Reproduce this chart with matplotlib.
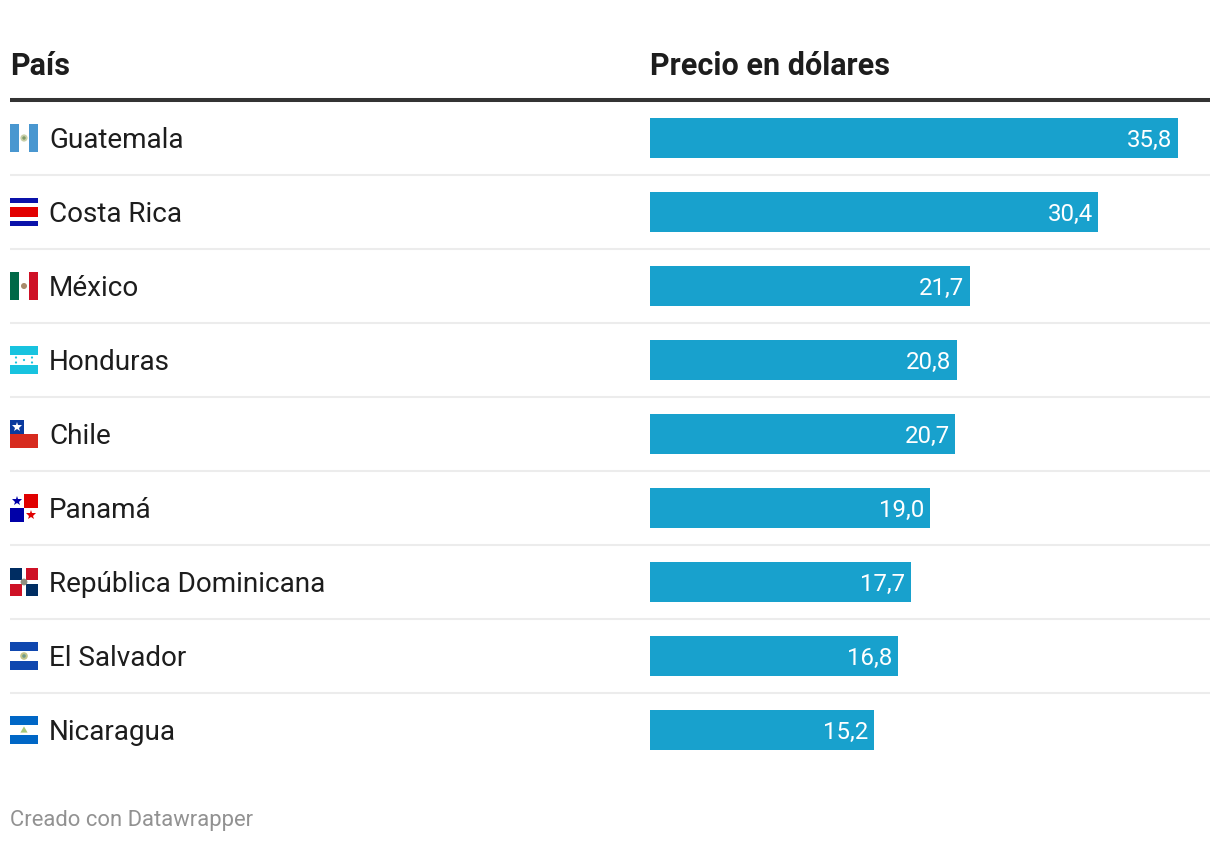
import matplotlib
matplotlib.use('Agg')
import matplotlib.pyplot as plt
from matplotlib.patches import Rectangle, Circle, Polygon

plt.rcParams['font.family'] = ['Roboto', 'DejaVu Sans']

paises = ['Guatemala', 'Costa Rica', 'México', 'Honduras', 'Chile', 'Panamá',
          'República Dominicana', 'El Salvador', 'Nicaragua']
precios = [35.8, 30.4, 21.7, 20.8, 20.7, 19.0, 17.7, 16.8, 15.2]
etiquetas = ['35,8', '30,4', '21,7', '20,8', '20,7', '19,0', '17,7', '16,8', '15,2']

W, H = 1220, 842
TOP = 138
PITCH = 74
BAR = '#18a1cd'
TXT = '#1d1d1d'


def rect(ax, x, y, w, h, c):
    ax.add_patch(Rectangle((x, y), w, h, fc=c, ec='none', zorder=3))


def stripes(ax, y, colors, sizes):
    # horizontal bands, from top to bottom of the 28px flag
    t = y - 14
    for c, s in zip(colors, sizes):
        rect(ax, 10, t, 28, s, c)
        t += s


def vstripes(ax, y, colors):
    for i, c in enumerate(colors):
        rect(ax, 10 + i * 28 / 3, y - 14, 28 / 3, 28, c)


def star(ax, x, y, c, s=6):
    ax.plot([x], [y], marker='*', ms=s, color=c, mew=0, zorder=4)


def dot(ax, x, y, c, r=2.2):
    ax.add_patch(Circle((x, y), r, fc=c, ec='none', zorder=4))


def flag(ax, name, y):
    if name == 'Guatemala':
        vstripes(ax, y, ['#4997d0', '#ffffff', '#4997d0'])
        dot(ax, 24, y, '#c9cfa8', 3.6)
        dot(ax, 24, y, '#7f9a6a', 1.7)
    elif name == 'Costa Rica':
        stripes(ax, y, ['#0a12aa', '#ffffff', '#e20000', '#ffffff', '#0a12aa'],
                [4.67, 4.67, 9.33, 4.67, 4.67])
    elif name == 'México':
        vstripes(ax, y, ['#006847', '#ffffff', '#ce1126'])
        dot(ax, 24, y, '#a98a6a', 3)
    elif name == 'Honduras':
        stripes(ax, y, ['#18c3df', '#ffffff', '#18c3df'], [9.33, 9.33, 9.33])
        for dx, dy in [(0, 0), (-8, -2.5), (8, -2.5), (-8, 2.5), (8, 2.5)]:
            dot(ax, 24 + dx, y + dy, '#18c3df', 1.1)
    elif name == 'Chile':
        stripes(ax, y, ['#ffffff', '#d72b1f'], [14, 14])
        rect(ax, 10, y - 14, 14, 14, '#0a3a9e')
        star(ax, 17, y - 7, '#ffffff', 7)
    elif name == 'Panamá':
        rect(ax, 10, y - 14, 28, 28, '#ffffff')
        rect(ax, 24, y - 14, 14, 14, '#e00000')
        rect(ax, 10, y, 14, 14, '#0000a8')
        star(ax, 17, y - 7, '#0000a8', 7)
        star(ax, 31, y + 7, '#e00000', 7)
    elif name == 'República Dominicana':
        rect(ax, 10, y - 14, 28, 28, '#ffffff')
        rect(ax, 10, y - 14, 12, 12, '#002d62')
        rect(ax, 26, y - 14, 12, 12, '#ce1126')
        rect(ax, 10, y + 2, 12, 12, '#ce1126')
        rect(ax, 26, y + 2, 12, 12, '#002d62')
        dot(ax, 24, y, '#8f8f80', 3.4)
    elif name == 'El Salvador':
        stripes(ax, y, ['#0f47af', '#ffffff', '#0f47af'], [9.33, 9.33, 9.33])
        dot(ax, 24, y, '#c4c48a', 3.8)
        dot(ax, 24, y, '#6f9a8a', 1.8)
    elif name == 'Nicaragua':
        stripes(ax, y, ['#0067c6', '#ffffff', '#0067c6'], [9.33, 9.33, 9.33])
        ax.add_patch(Polygon([[24, y - 3.6], [27.6, y + 2.6], [20.4, y + 2.6]],
                             fc='#a8c878', ec='none', zorder=4))


fig = plt.figure(figsize=(W / 100, H / 100), dpi=100, facecolor='white')

# capa de fondo en pixeles para cabecera, filas y banderas
ax = fig.add_axes([0, 0, 1, 1])
ax.set_xlim(0, W)
ax.set_ylim(H, 0)
ax.axis('off')

ax.text(10, 63, 'País', fontsize=22, fontweight='bold', color=TXT, va='center_baseline')
ax.text(650, 63, 'Precio en dólares', fontsize=22, fontweight='bold', color=TXT, va='center_baseline')
ax.plot([10, 1210], [100, 100], color='#333333', lw=2.9, solid_capstyle='butt')

for i, p in enumerate(paises):
    y = TOP + i * PITCH
    ax.text(49, y, p, fontsize=20.1, color=TXT, va='center_baseline')
    flag(ax, p, y)
    if i < len(paises) - 1:
        ax.plot([10, 1210], [y + 37, y + 37], color='#ececec', lw=1.5, solid_capstyle='butt')

ax.text(10, 818, 'Creado con Datawrapper', fontsize=15.8, color='#929292', va='center_baseline')

# barras
PX_UNIT = 528 / 35.8
bx = fig.add_axes([650 / W, 0, 560 / W, 1])
bx.set_xlim(0, 560 / PX_UNIT)
bx.set_ylim((H - TOP) / PITCH, -TOP / PITCH)
bx.patch.set_alpha(0)
bx.axis('off')
bx.barh(range(len(precios)), precios, height=40 / PITCH, color=BAR, linewidth=0)
for i, (v, e) in enumerate(zip(precios, etiquetas)):
    bx.annotate(e, (v, i), xytext=(-4, 0), textcoords='offset points', ha='right',
                va='center_baseline', color='white', fontsize=17.3)

fig.savefig('out.png', dpi=100)
